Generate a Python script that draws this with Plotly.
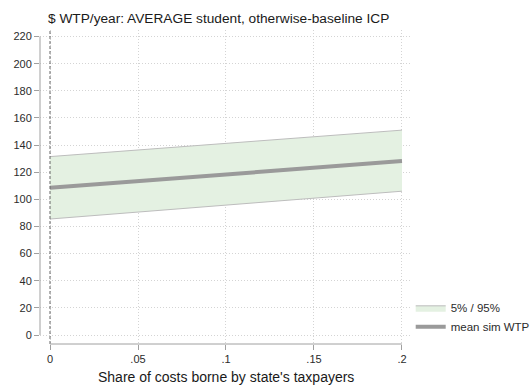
import plotly.graph_objects as go

# Share of program costs borne by state taxpayers
share = [0.0, 0.05, 0.10, 0.15, 0.20]
# Simulated willingness to pay ($/year), average student
wtp_mean = [108.5, 113.5, 118.4, 123.3, 128.2]
wtp_p05 = [85.5, 90.6, 95.7, 100.9, 106.0]
wtp_p95 = [131.5, 136.4, 141.3, 146.2, 151.0]

x_ticks = [0, 0.05, 0.10, 0.15, 0.20]
x_labels = ["0", ".05", ".1", ".15", ".2"]
y_ticks = list(range(0, 221, 20))

axis_gray = "#a0a0a0"
grid_gray = "#d4d4d4"
text_col = "#2b2b2b"
font_fam = "Liberation Sans, Arial, sans-serif"

# plot area in pixels: left 40, right 410, top 30, bottom 344
W, H = 532, 388
L, R, T, B = 40, 410, 30, 344


def px_x(px):
    return (px - L) / (R - L)


def px_y(py):
    return (B - py) / (B - T)


fig = go.Figure()

fig.add_trace(go.Scatter(
    x=share, y=wtp_p05, mode="lines",
    line=dict(color="#bdbdbd", width=1),
    showlegend=False, hoverinfo="skip",
))
fig.add_trace(go.Scatter(
    x=share, y=wtp_p95, mode="lines", fill="tonexty",
    fillcolor="#e4f1e2",
    line=dict(color="#bdbdbd", width=1),
    name="5% / 95%",
))
fig.add_trace(go.Scatter(
    x=share, y=wtp_mean, mode="lines",
    line=dict(color="#9a9a9a", width=4),
    name="mean sim WTP",
))

# reference line at zero share
fig.add_shape(type="line", xref="x", yref="paper", x0=0, x1=0, y0=0, y1=1,
              line=dict(color="#666666", width=1, dash="3px,2px"), layer="above")
# axis lines spanning only the labelled ranges
fig.add_shape(type="line", xref="paper", yref="y", x0=0, x1=0, y0=0, y1=220,
              line=dict(color=axis_gray, width=1))
fig.add_shape(type="line", xref="x", yref="paper", x0=0, x1=0.2, y0=0, y1=0,
              line=dict(color=axis_gray, width=1))

fig.add_annotation(
    text="Share of costs borne by state's taxpayers",
    xref="paper", yref="paper", x=px_x(226), y=px_y(377),
    xanchor="center", yanchor="middle", showarrow=False,
    font=dict(size=14, color="#1a1a1a", family=font_fam),
)

fig.update_layout(
    width=W, height=H,
    margin=dict(l=L, r=W - R, t=T, b=H - B, autoexpand=False),
    paper_bgcolor="white", plot_bgcolor="white",
    font=dict(family=font_fam, color=text_col, size=11),
    title=dict(
        text="$ WTP/year: AVERAGE student, otherwise-baseline ICP",
        xref="container", yref="container",
        x=48 / W, y=1 - 18 / H, xanchor="left", yanchor="middle",
        font=dict(size=13.7, color="#1a1a1a", family=font_fam),
    ),
    showlegend=True,
    legend=dict(xref="container", yref="container", x=0.772, y=0.244,
                xanchor="left", yanchor="top", traceorder="normal",
                bgcolor="rgba(0,0,0,0)", font=dict(size=11.5, color=text_col),
                tracegroupgap=0, itemwidth=30),
    xaxis=dict(
        range=[-0.00568, 0.20455], tickvals=x_ticks, ticktext=x_labels,
        showgrid=True, gridcolor=grid_gray, griddash="1px,2px", gridwidth=1,
        zeroline=False, showline=False, automargin=False,
        ticks="outside", ticklen=5, tickcolor=axis_gray,
    ),
    yaxis=dict(
        range=[-6.6, 224.8], tickvals=y_ticks,
        showgrid=True, gridcolor=grid_gray, griddash="1px,2px", gridwidth=1,
        zeroline=False, showline=False, automargin=False,
        ticks="outside", ticklen=5, tickcolor=axis_gray,
    ),
)

fig.write_html("out.html")
